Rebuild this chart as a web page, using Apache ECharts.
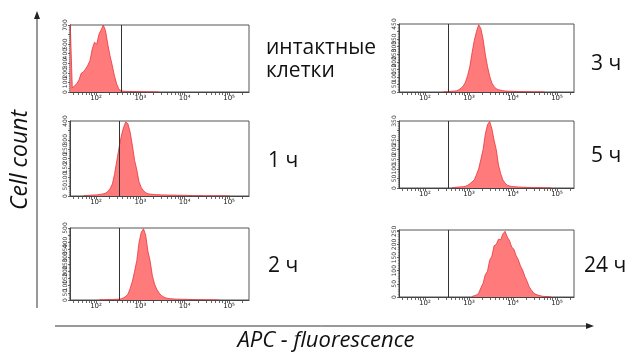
<!DOCTYPE html>
<html><head><meta charset="utf-8">
<script src="https://cdn.jsdelivr.net/npm/echarts@6/dist/echarts.min.js"></script>
<style>html,body{margin:0;padding:0;background:#fff}#c{width:635px;height:354px}</style>
</head><body><div id="c"></div>
<script>
// ---- data ----
const BIN_STEP = 0.05; // bin width in log10(fluorescence)
const xTickValues = [2, 3, 4, 5];
const xTickLabels = ['10²', '10³', '10⁴', '10⁵'];
const panelNames = ['интактные\nклетки', '1 ч', '2 ч', '3 ч', '5 ч', '24 ч'];

const intactStart = 1.415;
const intactCounts = [760,40,65,85,125,195,210,240,280,330,450,520,500,600,650,700,640,500,380,280,170,85,30,14,8,7,6,6,5,5,4,4,3,3,3,2,2,2,1,1,0];
const h1Start = 1.72;
const h1Counts = [2,3,3,4,5,6,6,8,10,12,16,25,40,65,120,190,260,320,365,395,385,340,270,190,140,75,45,28,18,12,10,9,8,7,7,6,6,6,5,5,5,5,4,4,4,4,4,3,3,2,2,2,2,2,1,1,1,1,1,1,1,1,1,1,1,1,0];
const h2Start = 2.07;
const h2Counts = [1,2,2,2,3,3,3,4,5,6,8,15,25,40,80,130,200,275,400,470,495,450,340,270,170,110,75,50,32,22,15,11,9,8,7,6,6,5,5,5,4,4,3,3,3,2,2,2,2,1,1,1,1,1,0];
const h3Start = 2.42;
const h3Counts = [2,2,3,4,5,6,8,15,25,40,65,110,170,260,340,400,445,420,350,250,170,105,60,35,22,15,12,9,7,6,5,5,4,4,3,3,3,2,2,2,2,1,1,1,1,1,0];
const h5Start = 2.62;
const h5Counts = [2,3,4,5,6,7,9,14,22,32,42,70,100,150,200,280,330,348,310,250,200,120,75,42,25,15,11,8,7,6,5,5,4,4,3,3,3,2,2,2,2,1,1,1,1,0];
const h24Start = 3.07;
const h24Counts = [2,5,8,14,35,52,85,98,140,155,195,200,220,218,240,250,228,215,190,182,158,142,118,102,78,60,38,26,15,10,7,5,3,2,2,1,0];

const yMaxes = [700, 400, 500, 450, 350, 255];
const yIntervals = [100, 50, 50, 50, 50, 50];
const gates = [2.56, 2.52, 2.52, 2.52, 2.54, 2.52];

// ---- layout ----
const starts = [intactStart, h1Start, h2Start, h3Start, h5Start, h24Start];
const counts = [intactCounts, h1Counts, h2Counts, h3Counts, h5Counts, h24Counts];
const grids = [
  {left:70, top:25, width:179, height:67},
  {left:70, top:121, width:179, height:75},
  {left:70, top:228, width:179, height:72},
  {left:399, top:24, width:175, height:68},
  {left:399, top:121, width:175, height:67},
  {left:399, top:230, width:175, height:67}
];
const xRanges = [[1.413,5.45],[1.413,5.45],[1.413,5.45],[1.41,5.386],[1.41,5.386],[1.41,5.386]];

function minorTicks(lo, hi) {
  const out = [];
  for (let n = 1; n <= 5; n++) for (let m = 1; m <= 9; m++) {
    const v = n + Math.log10(m);
    if (v >= lo && v <= hi) out.push(v);
  }
  return out;
}

const chart = echarts.init(document.getElementById('c'), null, {renderer: 'canvas'});
const option = {
  backgroundColor: '#fff',
  animation: false,
  grid: grids.map(g => Object.assign({show: true, borderColor: '#555', borderWidth: 1, backgroundColor: 'transparent'}, g)),
  xAxis: grids.map((g, i) => ({
    type: 'value', gridIndex: i, min: xRanges[i][0], max: xRanges[i][1],
    axisLine: {show: true, lineStyle: {color: '#444', width: 1}},
    axisTick: {show: true, length: 3, lineStyle: {color: '#444', width: 0.8}, customValues: minorTicks(xRanges[i][0], xRanges[i][1])},
    axisLabel: {show: true, customValues: xTickValues, fontSize: 7, color: '#222', margin: 3, fontFamily: 'DejaVu Sans',
      formatter: v => xTickLabels[xTickValues.indexOf(Math.round(v))] || ''},
    splitLine: {show: false}
  })),
  yAxis: grids.map((g, i) => ({
    type: 'value', gridIndex: i, min: 0, max: yMaxes[i], interval: yIntervals[i],
    axisLine: {show: true, lineStyle: {color: '#444', width: 1}},
    axisTick: {show: true, length: 2, lineStyle: {color: '#444', width: 0.8}},
    minorTick: {show: true, splitNumber: 5, length: 1.2, lineStyle: {color: '#666', width: 0.5}},
    axisLabel: {show: true, rotate: 90, fontSize: 6, color: '#333', margin: 2, showMaxLabel: i === 5 ? false : true, fontFamily: 'DejaVu Sans'},
    splitLine: {show: false}
  })),
  series: counts.map((arr, i) => ({
    type: 'line', xAxisIndex: i, yAxisIndex: i, symbol: 'none', smooth: false, clip: true,
    data: arr.map((c, k) => [starts[i] + k * BIN_STEP, c]),
    lineStyle: {color: '#e8333b', width: 0.8},
    areaStyle: {color: '#ff7b7b', opacity: 1},
    markLine: {silent: true, symbol: 'none', label: {show: false},
      lineStyle: {color: '#333', width: 1, type: 'solid'}, data: [{xAxis: gates[i]}]}
  })),
  graphic: [
    {type: 'text', left: 266, top: 37, style: {text: panelNames[0], font: '21px "Open Sans"', fill: '#111', lineHeight: 23}},
    {type: 'text', left: 268, top: 151, style: {text: panelNames[1], font: '21px "Open Sans"', fill: '#111'}},
    {type: 'text', left: 268, top: 256, style: {text: panelNames[2], font: '21px "Open Sans"', fill: '#111'}},
    {type: 'text', left: 591, top: 54, style: {text: panelNames[3], font: '21px "Open Sans"', fill: '#111'}},
    {type: 'text', left: 591, top: 146, style: {text: panelNames[4], font: '21px "Open Sans"', fill: '#111'}},
    {type: 'text', left: 584, top: 256, style: {text: panelNames[5], font: '21px "Open Sans"', fill: '#111'}},
    {type: 'text', x: 20, y: 160, rotation: Math.PI / 2,
      style: {text: 'Cell count', font: 'italic 23px "Open Sans"', fill: '#111', align: 'center', verticalAlign: 'middle'}},
    {type: 'text', x: 326, y: 341,
      style: {text: 'APC - fluorescence', font: 'italic 22px "Open Sans"', fill: '#111', align: 'center', verticalAlign: 'middle'}},
    {type: 'line', shape: {x1: 37, y1: 308, x2: 37, y2: 16}, style: {stroke: '#333', lineWidth: 1}},
    {type: 'polygon', shape: {points: [[37, 11], [34, 19], [40, 19]]}, style: {fill: '#222'}},
    {type: 'line', shape: {x1: 55, y1: 326, x2: 588, y2: 326}, style: {stroke: '#333', lineWidth: 1}},
    {type: 'polygon', shape: {points: [[594, 326], [586, 323], [586, 329]]}, style: {fill: '#222'}}
  ]
};
chart.setOption(option);
</script>
</body></html>
